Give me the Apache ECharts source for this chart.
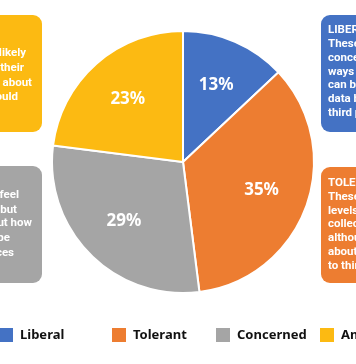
<!DOCTYPE html>
<html>
<head>
<meta charset="utf-8">
<script src="https://cdn.jsdelivr.net/npm/echarts@6/dist/echarts.min.js"></script>
<style>
html,body{margin:0;padding:0;background:#fff;}
#c{width:356px;height:364px;}
</style>
</head>
<body>
<div id="c"></div>
<script>
const categories = ['Liberal', 'Tolerant', 'Concerned', 'Ambivalent'];
const values = [13, 35, 29, 23];

const PALETTE = ['#4472C4', '#ED7D31', '#A5A5A5', '#FCBA12'];
const chart = echarts.init(document.getElementById('c'), null, {renderer: 'canvas'});

const pieData = categories.map((n, i) => ({name: n, value: values[i]}));

const legendLefts = [-1, 112, 216, 320];
const legends = categories.map((n, i) => ({
  left: legendLefts[i], top: 328, padding: 0,
  orient: 'horizontal', selectedMode: false,
  icon: 'rect', itemWidth: 14, itemHeight: 14,
  data: [{name: n, itemStyle: {color: PALETTE[i], borderWidth: 0}}],
  textStyle: {fontFamily: 'Noto Sans', fontWeight: 'bold', fontSize: 13, color: '#111', padding: [0, 0, 0, 2]}
}));

const txt = (x, y, s, align) => ({
  type: 'text', x: x, y: y, z: 10, silent: true,
  style: {text: s, fill: '#fff', font: 'bold 11.5px Roboto', textAlign: align, textVerticalAlign: 'middle'}
});
const box = (x, y, w, h, c) => ({
  type: 'rect', silent: true, z: 5,
  shape: {x: x, y: y, width: w, height: h, r: 9},
  style: {fill: c}
});

const graphics = [
  box(-70, 15, 112, 117, PALETTE[3]),
  txt(26, 53, 'These users are likely', 'right'),
  txt(24, 68, 'to change their', 'right'),
  txt(32, 83, 'minds about', 'right'),
  txt(18, 97, 'what data could', 'right'),
  box(-70, 166, 112, 117, PALETTE[2]),
  txt(19, 195, 'These users feel', 'right'),
  txt(17, 210, 'positive but', 'right'),
  txt(32, 223, 'uncertain about how', 'right'),
  txt(10, 238, 'data might be', 'right'),
  txt(14, 253, 'used by services', 'right'),
  box(321, 15, 120, 117, PALETTE[0]),
  txt(328, 30, 'LIBERAL:', 'left'),
  txt(328, 44, 'These users are not', 'left'),
  txt(328, 58, 'concerned about the', 'left'),
  txt(328, 72, 'ways in which data', 'left'),
  txt(328, 85, 'can be collected, or', 'left'),
  txt(328, 99, 'data being shared with', 'left'),
  txt(328, 113, 'third parties.', 'left'),
  box(321, 167, 120, 116, PALETTE[1]),
  txt(328, 183, 'TOLERANT:', 'left'),
  txt(328, 197, 'These users accept', 'left'),
  txt(328, 211, 'levels of data', 'left'),
  txt(328, 224, 'collection and sharing', 'left'),
  txt(328, 238, 'although they care', 'left'),
  txt(328, 252, 'about data being sold', 'left'),
  txt(328, 266, 'to third parties.', 'left')
];

chart.setOption({
  animation: false,
  color: PALETTE,
  legend: legends,
  graphic: graphics,
  series: [
    {
      type: 'pie', center: [183, 162], radius: [0, 131],
      startAngle: 90, clockwise: true, silent: true,
      itemStyle: {borderColor: '#fff', borderWidth: 2},
      label: {show: false}, labelLine: {show: false},
      emphasis: {disabled: true},
      data: pieData
    },
    {
      type: 'pie', center: [183, 162], radius: [30, 131],
      startAngle: 90, clockwise: true, silent: true, z: 3,
      itemStyle: {color: 'rgba(0,0,0,0)', borderWidth: 0},
      label: {show: true, position: 'inside', formatter: '{c}%',
        color: '#fff', fontFamily: 'Noto Sans', fontWeight: 'bold', fontSize: 17},
      labelLine: {show: false},
      emphasis: {disabled: true},
      data: pieData
    }
  ]
});
</script>
</body>
</html>
